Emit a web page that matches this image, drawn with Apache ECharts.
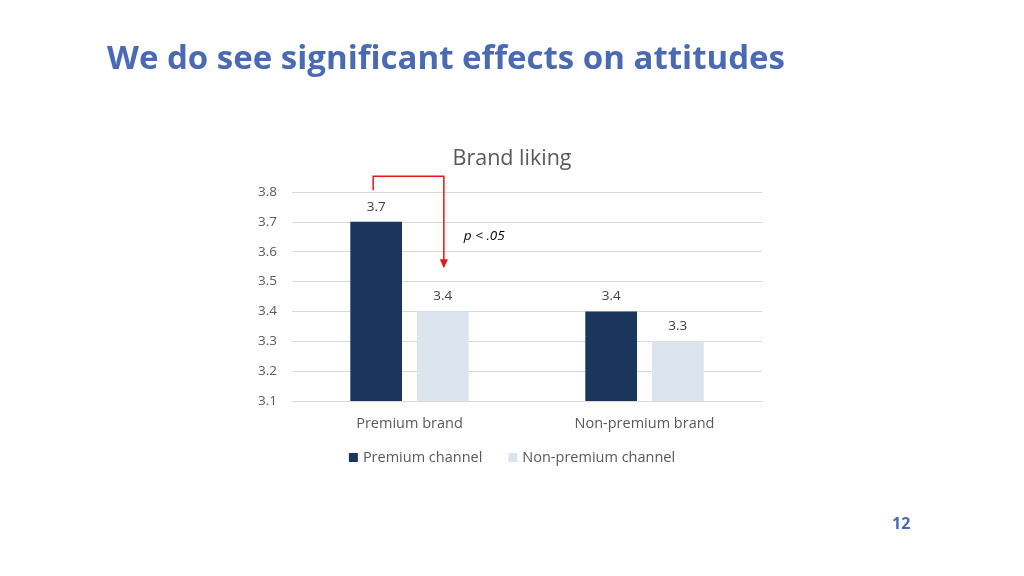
<!DOCTYPE html>
<html><head><meta charset="utf-8">
<script src="https://cdn.jsdelivr.net/npm/echarts@6/dist/echarts.min.js"></script>
<style>html,body{margin:0;padding:0;background:#fff}#c{width:1024px;height:576px}</style>
</head><body><div id="c"></div>
<script>
const slideTitle = 'We do see significant effects on attitudes';
const chartTitle = 'Brand liking';
const categories = ['Premium brand', 'Non-premium brand'];
const seriesNames = ['Premium channel', 'Non-premium channel'];
const premiumChannel = [3.7, 3.4];
const nonPremiumChannel = [3.4, 3.3];
const yTicks = [3.1, 3.2, 3.3, 3.4, 3.5, 3.6, 3.7, 3.8];
const annotationText = 'p < .05';
const annotationLevels = { start: 3.806, top: 3.853, end: 3.545 };
const pageNumber = '12';

const font = '"Open Sans", "Noto Sans", sans-serif';
const chart = echarts.init(document.getElementById('c'));
const BAR_W = 0.22, GAP = 0.29;
const option = {
  animation: false,
  title: [
    { text: slideTitle, left: 102, top: 38, textStyle: { fontFamily: font, fontWeight: 'bold', fontSize: 33, color: '#4A6BB4' } },
    { text: chartTitle, left: 'center', top: 143, textStyle: { fontFamily: font, fontWeight: 'normal', fontSize: 21.5, color: '#595959' } },
    { text: pageNumber, left: 887, top: 511, textStyle: { fontFamily: font, fontWeight: 'bold', fontSize: 16, color: '#4A6BB4' } }
  ],
  grid: { left: 292, right: 262, top: 192, bottom: 175, containLabel: false },
  legend: {
    data: seriesNames, bottom: 106, left: 'center', itemWidth: 9, itemHeight: 9, itemGap: 26,
    icon: 'rect', textStyle: { fontFamily: font, fontSize: 14.5, color: '#595959' }
  },
  xAxis: {
    type: 'category', data: categories,
    axisLine: { lineStyle: { color: '#d9d9d9' } }, axisTick: { show: false },
    axisLabel: { fontFamily: font, fontSize: 14.5, color: '#595959', margin: 15 }
  },
  yAxis: {
    type: 'value', min: yTicks[0], max: yTicks[yTicks.length - 1], interval: 0.1,
    axisLabel: { fontFamily: font, fontSize: 13.5, color: '#595959', margin: 15, formatter: v => v.toFixed(1) },
    splitLine: { lineStyle: { color: '#d9d9d9' } }, axisLine: { show: false }, axisTick: { show: false }
  },
  series: [
    { name: seriesNames[0], type: 'bar', data: premiumChannel, barWidth: (BAR_W * 100) + '%', barGap: (GAP * 100) + '%',
      itemStyle: { color: '#1B365D' },
      label: { show: true, position: 'top', distance: 8, fontFamily: font, fontSize: 13.5, color: '#404040', formatter: p => p.value.toFixed(1) } },
    { name: seriesNames[1], type: 'bar', data: nonPremiumChannel, barWidth: (BAR_W * 100) + '%',
      itemStyle: { color: '#DCE4EE' },
      label: { show: true, position: 'top', distance: 8, fontFamily: font, fontSize: 13.5, color: '#404040', formatter: p => p.value.toFixed(1) } }
  ]
};
chart.setOption(option);

// annotation bracket from bar 0 (premium channel) to bar 1 (non-premium channel) in category 0
const c0 = chart.convertToPixel({ xAxisIndex: 0 }, 0);
const c1 = chart.convertToPixel({ xAxisIndex: 0 }, 1);
const band = c1 - c0;
const bw = band * BAR_W;
const off = (bw + bw * GAP) / 2;
const xa = c0 - off - 3, xb = c0 + off + 1;
const yp = v => chart.convertToPixel({ yAxisIndex: 0 }, v);
const yS = yp(annotationLevels.start), yT = yp(annotationLevels.top), yE = yp(annotationLevels.end);
chart.setOption({
  graphic: [
    { type: 'polyline', shape: { points: [[xa, yS], [xa, yT], [xb, yT], [xb, yE - 8]] }, style: { stroke: '#E8141B', lineWidth: 1.5, fill: null } },
    { type: 'polygon', shape: { points: [[xb - 4, yE - 9], [xb + 4, yE - 9], [xb, yE]] }, style: { fill: '#E8141B' } },
    { type: 'text', x: xb + 20, y: yp(3.652), style: { text: annotationText, font: 'italic 13.5px ' + font, fill: '#000', textVerticalAlign: 'middle' } }
  ]
});
</script></body></html>
